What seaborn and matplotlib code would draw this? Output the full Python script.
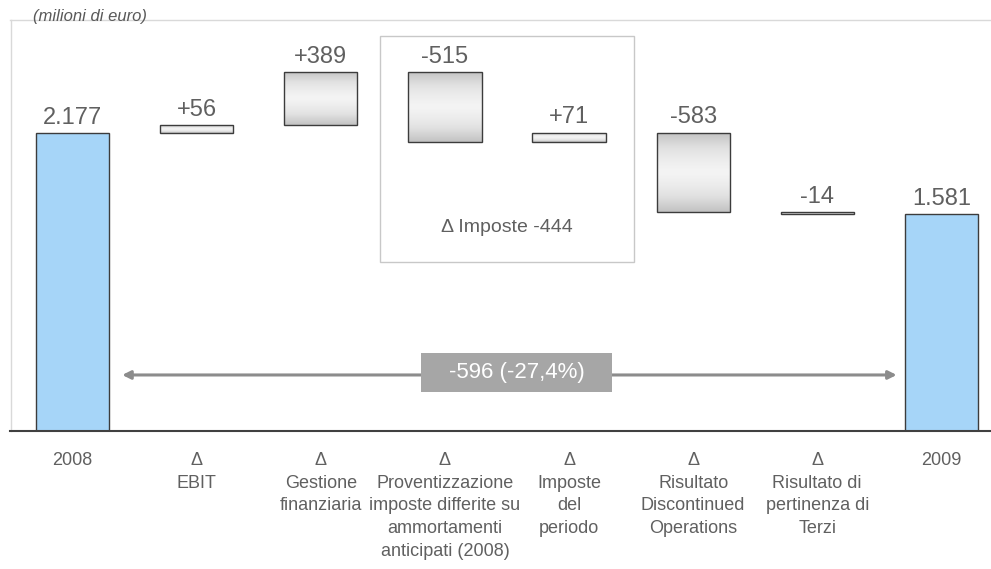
import numpy as np
import matplotlib
matplotlib.use("Agg")
import matplotlib.pyplot as plt
import seaborn as sns
from matplotlib.colors import LinearSegmentedColormap
from matplotlib.patches import Rectangle

# --- data -------------------------------------------------------------
categories = [
    "2008",
    "Δ\nEBIT",
    "Δ\nGestione\nfinanziaria",
    "Δ\nProventizzazione\nimposte differite su\nammortamenti\nanticipati (2008)",
    "Δ\nImposte\ndel\nperiodo",
    "Δ\nRisultato\nDiscontinued\nOperations",
    "Δ\nRisultato di\npertinenza di\nTerzi",
    "2009",
]
start_total = 2177
changes = [56, 389, -515, 71, -583, -14]
end_total = 1581
tax_items = [2, 3]          # indices in `changes` grouped as "Imposte"

# --- waterfall geometry ------------------------------------------------
bottoms, tops = [0], [start_total]
running = start_total
for c in changes:
    new = running + c
    bottoms.append(min(running, new))
    tops.append(max(running, new))
    running = new
bottoms.append(0)
tops.append(end_total)


def fmt_total(v):
    return f"{v:,}".replace(",", ".")


labels = [fmt_total(start_total)] + [f"{c:+d}" for c in changes] + [fmt_total(end_total)]

# --- style -------------------------------------------------------------
sns.set_style("white")
plt.rcParams["font.family"] = ["Liberation Sans", "DejaVu Sans"]
TXT = "#606060"
BLUE = "#a6d5f8"
EDGE = "#3c3c3c"

fig = plt.figure(figsize=(9.91, 5.69), dpi=100)
ax = fig.add_axes([10.5 / 991, 138 / 569, 980.5 / 991, 411 / 569])

sns.barplot(x=list(range(len(categories))), y=tops, color=BLUE, width=0.59,
            saturation=1, edgecolor=EDGE, linewidth=1, ax=ax, zorder=2)

grad_cmap = LinearSegmentedColormap.from_list(
    "steel", ["#f4f4f4", "#e2e2e2", "#c2c2c2"])
profile = np.abs(np.linspace(-1, 1, 200)) ** 1.3

for i, patch in enumerate(ax.patches):
    patch.set_y(bottoms[i])
    patch.set_height(tops[i] - bottoms[i])
    if 0 < i < len(categories) - 1:
        patch.set_facecolor("none")
        x0 = patch.get_x()
        w = patch.get_width()
        img = ax.imshow(profile[:, None], cmap=grad_cmap, vmin=0, vmax=1,
                        extent=(x0, x0 + w, bottoms[i], tops[i]),
                        aspect="auto", origin="upper", zorder=1.5,
                        interpolation="bilinear")
        img.set_clip_path(patch)
    ax.annotate(labels[i], xy=(i, tops[i]), xytext=(0, 3),
                textcoords="offset points", ha="center", va="bottom",
                fontsize=17, color=TXT)

ax.set_xlim(-0.5, 7.4)
ax.set_ylim(0, 3000)

# box grouping the tax effects
ax.add_patch(Rectangle((2.477, 1235), 2.047, 1645, fill=False,
                       edgecolor="#c8c8c8", linewidth=1, zorder=1))
tax_total = sum(changes[k] for k in tax_items)
ax.text(3.5, 1484, f"Δ Imposte {tax_total}", ha="center", va="center",
        fontsize=14, color=TXT)

# overall change arrow
diff = end_total - start_total
pct = diff / start_total * 100
ax.annotate("", xy=(0.40, 409), xytext=(6.64, 409),
            arrowprops=dict(arrowstyle="<|-|>", color="#8c8c8c", lw=2.2,
                            mutation_scale=12, shrinkA=0, shrinkB=0),
            zorder=3)
ax.add_patch(Rectangle((2.808, 285), 1.539, 285, facecolor="#a6a6a6",
                       edgecolor="none", zorder=4))
ax.text(3.578, 428, f"{diff} ({pct:.1f}%)".replace(".", ","), ha="center",
        va="center", fontsize=16, color="white", zorder=5)

# axes cosmetics
ax.set_xticks(range(len(categories)))
ax.set_xticklabels(categories, fontsize=13, color=TXT, linespacing=1.44)
ax.tick_params(axis="x", length=0, pad=15)
ax.set_yticks([])
ax.set_xlabel("")
ax.set_ylabel("")
for side in ("top", "left"):
    ax.spines[side].set_color("#d9d9d9")
    ax.spines[side].set_linewidth(1)
ax.spines["right"].set_visible(False)
ax.spines["bottom"].set_color("#404040")
ax.spines["bottom"].set_linewidth(1.5)

fig.text(33 / 991, 1 - 17 / 569, "(milioni di euro)", ha="left", va="center",
         fontsize=12, style="italic", color="#595959")

fig.savefig("out.png", dpi=100)
